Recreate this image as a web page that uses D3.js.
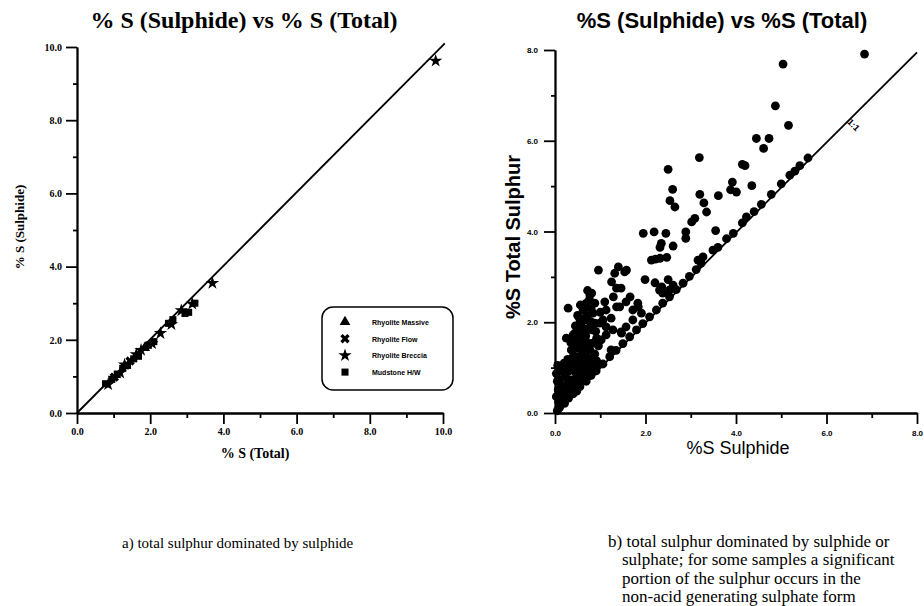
<!DOCTYPE html>
<meta charset="utf-8">
<head>
    <title>% S (Sulphide) vs % S (Total)</title>
    <style>
        body { margin: 0; background: #fff; }
        .tick line, .domain { stroke: #000; stroke-width: 1.8; }
        .serif { font-family: "Liberation Serif", "Times New Roman", serif; }
        .sans { font-family: "Liberation Sans", Arial, sans-serif; }
    </style>
</head>
<body>
<svg id="chart" width="924" height="606"></svg>
<script src="https://d3js.org/d3.v7.min.js"></script>
<script>

    // left panel: % S total, % S sulphide, rock type
    var leftTotal    = [0.78, 0.85, 0.95, 1.02, 1.10, 1.18, 1.25, 1.30, 1.38, 1.45, 1.55, 1.62, 1.68, 1.75, 1.85, 1.95, 2.05, 2.10, 2.28, 2.50, 2.58, 2.62, 2.85, 2.95, 3.05, 3.15, 3.22, 3.70, 9.80];
    var leftSulphide = [0.80, 0.78, 0.92, 0.98, 1.05, 1.10, 1.22, 1.32, 1.30, 1.42, 1.48, 1.60, 1.55, 1.72, 1.78, 1.85, 1.90, 1.95, 2.18, 2.45, 2.42, 2.55, 2.80, 2.72, 2.75, 2.98, 3.00, 3.55, 9.62];
    var leftType     = [3, 2, 3, 1, 3, 2, 3, 2, 3, 1, 3, 2, 3, 2, 0, 3, 2, 3, 2, 3, 2, 3, 2, 3, 3, 2, 3, 2, 2];
    var legendLabels = ["Rhyolite Massive", "Rhyolite Flow", "Rhyolite Breccia", "Mudstone H/W"];
    var leftMajor = [0, 2, 4, 6, 8, 10];
    var leftMinor = [1, 3, 5, 7, 9];

    // right panel: [% S sulphide, % S total]
    var rightPoints = [
        [6.84,7.91],[5.04,7.69],[4.87,6.77],[5.16,6.34],[4.45,6.05],[4.73,6.05],[4.61,5.83],[3.19,5.63],
        [4.14,5.48],[4.20,5.45],[2.50,5.37],[3.92,5.09],[4.01,4.87],[3.88,4.92],[4.35,5.01],[3.61,4.79],
        [2.60,4.93],[2.54,4.68],[2.65,4.54],[3.20,4.82],[3.29,4.63],[3.35,4.43],[3.09,4.29],[3.02,4.21],
        [2.89,3.99],[2.89,3.85],[3.55,4.02],[1.95,3.96],[2.19,3.99],[2.45,3.96],[2.35,3.74],[2.61,3.68],
        [2.32,3.65],[2.13,3.37],[2.22,3.39],[2.32,3.41],[2.47,3.43],[1.99,2.94],[2.21,2.87],[2.36,2.78],
        [2.50,2.94],[2.61,2.82],[2.31,2.71],[2.53,2.71],[2.38,2.64],
        [0.96,3.15],[1.40,3.22],[1.58,3.15],[1.32,3.08],[1.25,2.89],[1.36,2.75],[1.29,2.56],[1.46,2.75],[1.54,3.11],
        [0.29,2.31],[0.77,2.60],[0.69,2.42],[0.62,2.27],[0.54,2.09],[0.69,2.05],[0.84,2.20],[0.88,1.98],
        [1.10,2.45],[1.13,2.27],[1.06,2.05],[1.24,2.09],[1.43,2.34],[1.57,2.45],[1.72,2.27],[1.83,2.42],
        [1.91,2.20],[1.72,2.05],[1.57,1.90],[1.46,1.79],[1.28,1.83],[1.13,1.72],[1.02,1.61],[1.13,1.90],
        [1.47,1.76],[1.24,1.39],[1.66,2.56],[1.84,2.34],[1.36,2.34],[0.81,2.64],[0.81,1.83],[0.99,1.98],
        [0.25,1.65],[0.40,1.72],[0.58,1.68],[0.66,1.54],[0.51,1.43],[0.36,1.39],[0.40,1.24],[0.51,1.17],
        [0.40,1.02],[0.29,0.91],[0.47,0.87],[0.58,1.02],[0.69,1.24],[0.77,1.39],[0.84,1.54],[0.62,0.73],
        [0.36,0.73],[0.18,1.02],[0.10,0.73],[0.07,0.51],[0.18,0.43],[0.32,0.54],[0.47,0.58],[0.21,0.21],
        [0.10,0.14],[0.03,0.36],[0.03,0.87],[0.14,0.58],[0.05,0.05],[0.12,0.28],[0.25,0.32],[0.30,0.40],
        [0.06,1.05],[0.22,0.80],[0.28,1.18],[0.45,1.05],[0.50,0.65],[0.55,0.92],[0.60,1.32],[0.66,1.10],
        [0.72,0.90],[0.76,1.20],[0.82,1.02],[0.88,1.30],[0.92,1.15],[0.45,1.92],[0.52,1.82],[0.60,2.02],
        [0.72,1.86],[0.66,2.32],[0.56,2.38],[0.76,2.50],[0.80,2.30],[0.90,1.80],[0.96,1.48],[1.00,2.22],
        [0.35,1.55],[0.44,1.76],
        [0.15,0.35],[0.25,0.50],[0.35,0.45],[0.42,0.70],[0.28,0.65],[0.18,0.60],[0.08,0.25],[0.05,0.70],
        [0.12,0.92],[0.25,1.00],[0.35,0.95],[0.50,0.78],[0.62,0.88],[0.70,1.05],[0.80,1.15],[0.85,0.95],
        [0.95,1.05],[0.55,1.15],[0.45,1.25],[0.35,1.12],[0.20,1.10],[0.65,0.80],[0.75,0.82],[0.58,0.68],
        [0.48,0.48],[0.38,0.55],[0.45,1.45],[0.55,1.55],[0.62,1.40],[0.72,1.55],[0.68,1.70],[0.48,1.62],
        [0.55,1.98],[0.62,1.85],[0.70,2.15],[0.50,2.15],[0.78,2.02],[0.92,1.65],[0.88,2.42],[0.72,2.70],
        [0.10,0.12],[0.20,0.25],[0.30,0.33],[0.40,0.42],[0.55,0.58],[0.69,0.70],[0.80,0.83],[0.91,0.93],
        [1.06,1.08],[1.21,1.24],[1.35,1.38],[1.50,1.53],[1.65,1.68],[1.80,1.83],[1.94,1.97],[2.09,2.12],
        [2.24,2.27],[2.38,2.42],[2.53,2.56],[2.68,2.72],[2.83,2.86],[2.97,3.01],[3.12,3.16],[3.23,3.30],
        [3.27,3.44],[3.16,3.37],[3.49,3.59],[3.60,3.65],[3.79,3.84],[3.94,3.96],[4.14,4.19],[4.23,4.32],
        [4.40,4.44],[4.56,4.60],[4.78,4.82],[5.00,5.05],[5.19,5.24],[5.30,5.33],[5.41,5.45],[5.59,5.62]
    ];
    var rightMajor = [0, 2, 4, 6, 8];
    var rightMinor = [1, 3, 5, 7];
    var rightLine = [[0, 0], [8.0, 7.95]];

    var captionA = "a) total sulphur dominated by sulphide";
    var captionB = ["b) total sulphur dominated by sulphide or",
                    "sulphate; for some samples a significant",
                    "portion of the sulphur occurs in the",
                    "non-acid generating sulphate form"];

    var svg = d3.select("#chart");
    svg.append("rect").attr("width", 924).attr("height", 606).attr("fill", "#fff");

    var fmt = d3.format(".1f");

    function drawAxes(g, x, y, major, minor, cls, size, pad) {
        g.append("g").attr("transform", "translate(0," + y.range()[0] + ")")
            .call(d3.axisBottom(x).tickValues(minor).tickSize(5).tickFormat("").tickSizeOuter(0));
        g.append("g").attr("transform", "translate(" + x.range()[0] + ",0)")
            .call(d3.axisLeft(y).tickValues(minor).tickSize(4).tickFormat("").tickSizeOuter(0));
        var xa = g.append("g").attr("transform", "translate(0," + y.range()[0] + ")")
            .call(d3.axisBottom(x).tickValues(major).tickSize(11).tickPadding(pad).tickFormat(fmt).tickSizeOuter(0));
        var ya = g.append("g").attr("transform", "translate(" + x.range()[0] + ",0)")
            .call(d3.axisLeft(y).tickValues(major).tickSize(11).tickPadding(pad).tickFormat(fmt).tickSizeOuter(0));
        [xa, ya].forEach(function (a) {
            a.attr("font-family", null).attr("font-size", null);
            a.selectAll("text").attr("class", cls)
                .attr("font-size", size).attr("font-weight", "bold").attr("fill", "#000");
        });
    }

    // ---------- left panel ----------
    var lx = d3.scaleLinear().domain([0, 10]).range([77, 443]),
        ly = d3.scaleLinear().domain([0, 10]).range([413, 47]);

    var left = svg.append("g");

    left.append("text")
        .attr("class", "serif")
        .attr("x", 244).attr("y", 28)
        .attr("text-anchor", "middle")
        .attr("font-size", 24).attr("font-weight", "bold")
        .text("% S (Sulphide) vs % S (Total)");

    drawAxes(left, lx, ly, leftMajor, leftMinor, "serif", 10, 4);

    left.append("text")
        .attr("class", "serif")
        .attr("x", 255).attr("y", 458)
        .attr("text-anchor", "middle")
        .attr("font-size", 14).attr("font-weight", "bold")
        .text("% S (Total)");

    left.append("text")
        .attr("class", "serif")
        .attr("transform", "translate(24,227) rotate(-90)")
        .attr("text-anchor", "middle")
        .attr("font-size", 13).attr("font-weight", "bold")
        .text("% S (Sulphide)");

    left.append("line")
        .attr("x1", lx(0)).attr("y1", ly(0))
        .attr("x2", lx(10.05)).attr("y2", ly(10.1))
        .attr("stroke", "#000").attr("stroke-width", 1.8);

    var symbols = [
        d3.symbol().type(d3.symbolTriangle).size(50),
        d3.symbol().type(d3.symbolCross).size(55),
        d3.symbol().type(d3.symbolStar).size(55),
        d3.symbol().type(d3.symbolSquare).size(50)
    ];
    var symRotate = [0, 45, 0, 0];

    left.selectAll(".pt")
        .data(leftTotal)
        .join("path")
        .attr("class", "pt")
        .attr("d", function (d, i) { return symbols[leftType[i]](); })
        .attr("transform", function (d, i) {
            return "translate(" + lx(d) + "," + ly(leftSulphide[i]) + ") rotate(" + symRotate[leftType[i]] + ")";
        })
        .attr("fill", "#000");

    // legend
    var legend = left.append("g");
    legend.append("rect")
        .attr("x", 322).attr("y", 307).attr("width", 131).attr("height", 83)
        .attr("rx", 11).attr("fill", "#fff")
        .attr("stroke", "#000").attr("stroke-width", 1.5);
    legendLabels.forEach(function (lab, i) {
        var yy = 322 + i * 16.7;
        legend.append("path")
            .attr("d", symbols[i]())
            .attr("transform", "translate(345," + yy + ") rotate(" + symRotate[i] + ")")
            .attr("fill", "#000");
        legend.append("text")
            .attr("class", "sans")
            .attr("x", 372).attr("y", yy + 3)
            .attr("font-size", 7).attr("font-weight", "bold")
            .text(lab);
    });

    // ---------- right panel ----------
    var rx = d3.scaleLinear().domain([0, 8]).range([555, 917]),
        ry = d3.scaleLinear().domain([0, 8]).range([413, 50]);

    var right = svg.append("g");

    right.append("text")
        .attr("class", "sans")
        .attr("x", 722).attr("y", 28)
        .attr("text-anchor", "middle")
        .attr("font-size", 22).attr("font-weight", "bold")
        .text("%S (Sulphide) vs %S (Total)");

    drawAxes(right, rx, ry, rightMajor, rightMinor, "sans", 8, 6);

    right.append("text")
        .attr("class", "sans")
        .attr("x", 738).attr("y", 454)
        .attr("text-anchor", "middle")
        .attr("font-size", 18)
        .text("%S Sulphide");

    right.append("text")
        .attr("class", "sans")
        .attr("transform", "translate(520,237) rotate(-90)")
        .attr("text-anchor", "middle")
        .attr("font-size", 20).attr("font-weight", "bold")
        .text("%S Total Sulphur");

    right.append("line")
        .attr("x1", rx(rightLine[0][0])).attr("y1", ry(rightLine[0][1]))
        .attr("x2", rx(rightLine[1][0])).attr("y2", ry(rightLine[1][1]))
        .attr("stroke", "#000").attr("stroke-width", 1.8);

    right.append("text")
        .attr("class", "sans")
        .attr("transform", "translate(" + rx(6.55) + "," + ry(6.3) + ") rotate(45)")
        .attr("text-anchor", "middle")
        .attr("font-size", 9).attr("font-weight", "bold")
        .text("1:1");

    right.selectAll(".dot")
        .data(rightPoints)
        .join("circle")
        .attr("class", "dot")
        .attr("cx", function (d) { return rx(d[0]); })
        .attr("cy", function (d) { return ry(d[1]); })
        .attr("r", 4.4)
        .attr("fill", "#000");

    // ---------- captions ----------
    svg.append("text")
        .attr("class", "serif")
        .attr("x", 122).attr("y", 548)
        .attr("font-size", 15)
        .text(captionA);

    svg.append("g").selectAll("text")
        .data(captionB)
        .join("text")
        .attr("class", "serif")
        .attr("x", function (d, i) { return i === 0 ? 608 : 622; })
        .attr("y", function (d, i) { return 547 + i * 18.3; })
        .attr("font-size", 17)
        .text(function (d) { return d; });

</script>
</body>
